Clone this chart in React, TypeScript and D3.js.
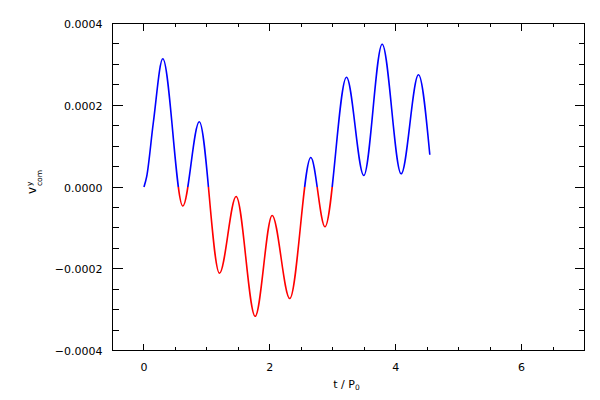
import React from "react";
import * as d3 from "d3";

// time in units of P0 at the extrema of the curve
const tValues = [0, 0.043, 0.148, 0.299, 0.617, 0.879, 1.2, 1.465, 1.767, 2.037, 2.317, 2.651, 2.876, 3.218, 3.493, 3.785, 4.087, 4.362, 4.542];
const vValues = [0, 0.0000252, 0.0001566, 0.0003136, -0.0000465, 0.0001595, -0.0002109, -0.0000232, -0.0003163, -0.0000697, -0.0002728, 0.0000722, -0.0000974, 0.0002686, 0.0000281, 0.0003494, 0.0000323, 0.0002745, 0.000079];

const xTickLabels = ["0", "2", "4", "6"];
const xMajorTicks = [0, 2, 4, 6];
const yTickLabels = ["\u22120.0004", "\u22120.0002", "0.0000", "0.0002", "0.0004"];
const yMajorTicks = [-0.0004, -0.0002, 0, 0.0002, 0.0004];

const W = 600;
const H = 400;
const L = 112.5, R = 584.5, T = 23.5, B = 350.5;

export default function App() {
  const x = d3.scaleLinear().domain([-0.5, 7]).range([L, R]);
  const y = d3.scaleLinear().domain([-0.0004, 0.0004]).range([B, T]);
  const data = tValues.map((t, i) => [t, vValues[i]] as [number, number]);
  const line = d3
    .line<[number, number]>()
    .x((d) => x(d[0]))
    .y((d) => y(d[1]))
    .curve(d3.curveMonotoneX);
  const path = line(data) || "";

  const xMinor = d3.range(-0.5, 7.001, 0.5).filter((v) => !xMajorTicks.some((m) => Math.abs(m - v) < 1e-9));
  const yAll = d3.range(-8, 9).map((k) => k * 0.00005);
  const yMinor = yAll.filter((v) => !yMajorTicks.some((m) => Math.abs(m - v) < 1e-12));

  const font = "DejaVu Sans, sans-serif";
  const y0 = y(0);

  return (
    <svg width={W} height={H} style={{ position: "absolute", left: 0, top: 0, background: "#fff" }}>
      <rect x={0} y={0} width={W} height={H} fill="#fff" />
      <defs>
        <clipPath id="clipPos">
          <rect x={0} y={0} width={W} height={y0} />
        </clipPath>
        <clipPath id="clipNeg">
          <rect x={0} y={y0} width={W} height={H - y0} />
        </clipPath>
      </defs>
      {/* curve */}
      <path d={path} fill="none" stroke="#0000ff" strokeWidth={1.6} clipPath="url(#clipPos)" />
      <path d={path} fill="none" stroke="#ff0000" strokeWidth={1.6} clipPath="url(#clipNeg)" />

      {/* frame */}
      <rect x={L} y={T} width={R - L} height={B - T} fill="none" stroke="#000" strokeWidth={1} shapeRendering="crispEdges" />

      {/* ticks */}
      <g stroke="#000" strokeWidth={1} shapeRendering="crispEdges">
        {xMajorTicks.map((v) => (
          <g key={"xm" + v}>
            <line x1={x(v)} x2={x(v)} y1={B} y2={B - 7} />
            <line x1={x(v)} x2={x(v)} y1={T} y2={T + 7} />
          </g>
        ))}
        {xMinor.map((v) => (
          <g key={"xn" + v}>
            <line x1={x(v)} x2={x(v)} y1={B} y2={B - 3.5} />
            <line x1={x(v)} x2={x(v)} y1={T} y2={T + 3.5} />
          </g>
        ))}
        {yMajorTicks.map((v) => (
          <g key={"ym" + v}>
            <line x1={L} x2={L + 10} y1={y(v)} y2={y(v)} />
            <line x1={R} x2={R - 10} y1={y(v)} y2={y(v)} />
          </g>
        ))}
        {yMinor.map((v) => (
          <g key={"yn" + v}>
            <line x1={L} x2={L + 6} y1={y(v)} y2={y(v)} />
            <line x1={R} x2={R - 6} y1={y(v)} y2={y(v)} />
          </g>
        ))}
      </g>

      {/* x tick labels */}
      <g fontFamily={font} fontSize={11} fill="#000" textAnchor="middle">
        {xMajorTicks.map((v, i) => (
          <text key={"xl" + v} x={x(v)} y={B + 20}>
            {xTickLabels[i]}
          </text>
        ))}
      </g>

      {/* y tick labels */}
      <g fontFamily={font} fontSize={11} fill="#000" textAnchor="end">
        {yMajorTicks.map((v, i) => (
          <text key={"yl" + v} x={L - 10} y={y(v) + 4.5}>
            {yTickLabels[i]}
          </text>
        ))}
      </g>

      {/* x axis title */}
      <text x={(L + R) / 2 - 2} y={388} fontFamily={font} fontSize={11} fill="#000" textAnchor="middle">
        t / P
        <tspan fontSize={7.5} dy={2}>0</tspan>
      </text>

      {/* y axis title */}
      <g transform={`translate(36, ${y0}) rotate(-90)`} fontFamily={font} fill="#000">
        <text x={-7} y={0} fontSize={12}>v</text>
        <text x={1} y={-4.5} fontSize={7.5}>y</text>
        <text x={1} y={5.5} fontSize={7.5}>com</text>
      </g>
    </svg>
  );
}
